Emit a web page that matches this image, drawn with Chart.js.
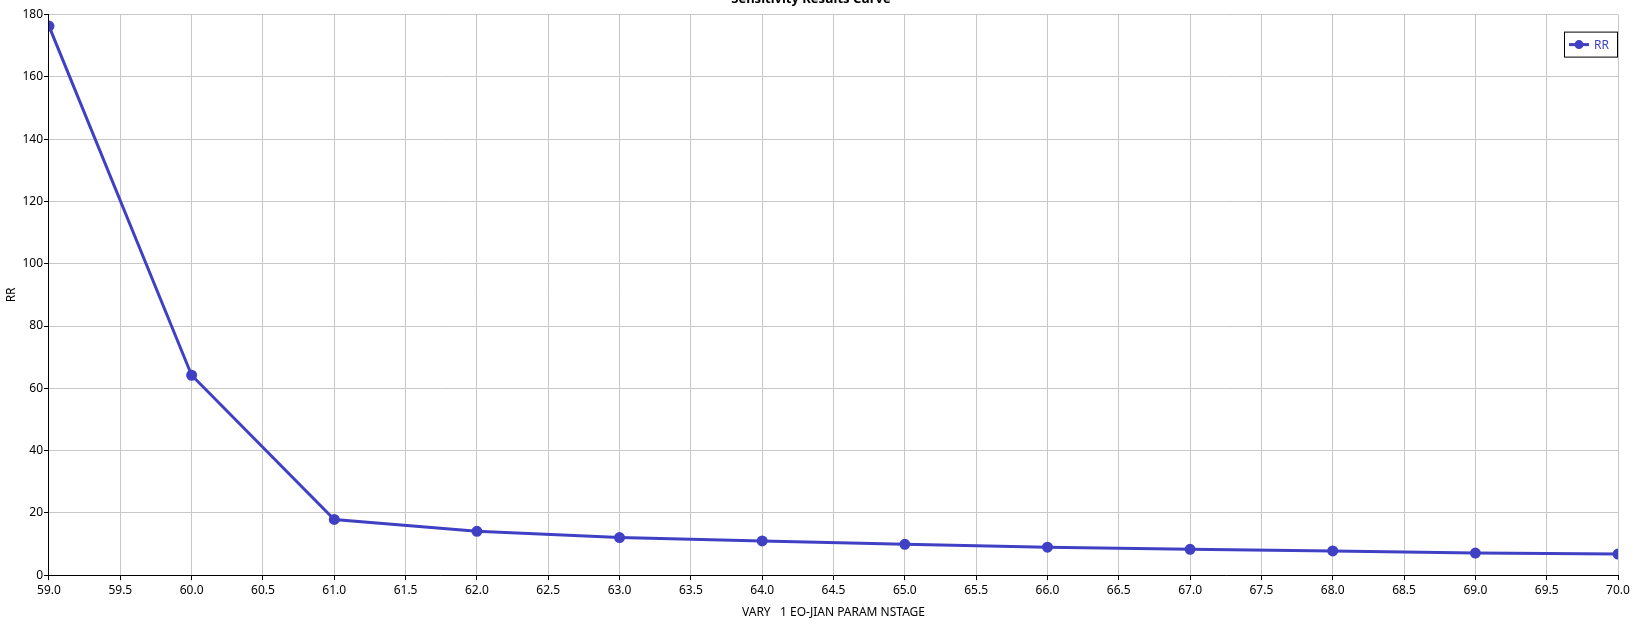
<!DOCTYPE html>
<html lang="en">
<head>
    <meta charset="UTF-8">
    <title>Sensitivity Results Curve</title>
    <script src="https://cdn.jsdelivr.net/npm/chart.js"></script>
    <style>
        body {
            margin: 0;
            padding: 0;
            background-color: #ffffff;
            overflow: hidden;
        }
        .chart-box {
            position: absolute;
            left: 0;
            top: -14px; /* title sits partly above the window like the original */
            width: 1637px;
            height: 644px;
        }
    </style>
</head>
<body>
    <div class="chart-box">
        <canvas id="rrChart"></canvas>
    </div>

    <script>
        // Data
        const nstage = [59, 60, 61, 62, 63, 64, 65, 66, 67, 68, 69, 70];
        const rrValues = [176.3, 64.2, 17.9, 14.1, 12.1, 11.0, 9.9, 9.0, 8.3, 7.8, 7.1, 6.8];
        const seriesName = 'RR';
        const chartTitle = 'Sensitivity Results Curve';
        const xTitle = 'VARY   1 EO-JIAN PARAM NSTAGE';
        const yTitle = 'RR';

        const lineColor = '#4040c4';
        const fontFamily = '"Noto Sans", "Open Sans", Arial, sans-serif';

        // Boxed legend drawn inside the plot area, top right
        const boxLegend = {
            id: 'boxLegend',
            afterDraw(chart) {
                const ctx = chart.ctx;
                const area = chart.chartArea;
                const w = 54, h = 26;
                const x = area.right - w;
                const y = area.top + 17;
                ctx.save();
                ctx.fillStyle = '#ffffff';
                ctx.fillRect(x, y, w, h);
                ctx.strokeStyle = '#000000';
                ctx.lineWidth = 1;
                ctx.strokeRect(x + 0.5, y + 0.5, w - 1, h - 1);
                ctx.strokeStyle = lineColor;
                ctx.lineWidth = 3;
                ctx.beginPath();
                ctx.moveTo(x + 5, y + h / 2);
                ctx.lineTo(x + 25, y + h / 2);
                ctx.stroke();
                ctx.fillStyle = lineColor;
                ctx.beginPath();
                ctx.arc(x + 15, y + h / 2, 4.5, 0, Math.PI * 2);
                ctx.fill();
                ctx.font = '12px ' + fontFamily;
                ctx.textBaseline = 'middle';
                ctx.fillText(chart.data.datasets[0].label, x + 30, y + h / 2 + 1);
                ctx.restore();
            }
        };

        const ctx = document.getElementById('rrChart').getContext('2d');
        new Chart(ctx, {
            type: 'line',
            data: {
                datasets: [{
                    label: seriesName,
                    data: nstage.map((x, i) => ({ x: x, y: rrValues[i] })),
                    borderColor: lineColor,
                    backgroundColor: lineColor,
                    borderWidth: 3,
                    pointRadius: 4,
                    pointHoverRadius: 4,
                    tension: 0,
                    fill: false
                }]
            },
            options: {
                responsive: true,
                maintainAspectRatio: false,
                animation: false,
                layout: {
                    padding: { left: 4, right: 19, top: 0, bottom: 10 }
                },
                plugins: {
                    legend: { display: false },
                    tooltip: { enabled: false },
                    title: {
                        display: true,
                        text: chartTitle,
                        color: '#000000',
                        font: { family: fontFamily, size: 13, weight: 'bold' },
                        padding: { top: 5, bottom: 8 }
                    }
                },
                scales: {
                    x: {
                        type: 'linear',
                        min: 59,
                        max: 70,
                        border: { color: '#000000', width: 1 },
                        grid: { color: '#c8c8c8', tickColor: '#000000', tickLength: 5 },
                        ticks: {
                            stepSize: 0.5,
                            color: '#000000',
                            padding: 3,
                            maxRotation: 0,
                            autoSkip: false,
                            font: { family: fontFamily, size: 12 },
                            callback: v => v.toFixed(1)
                        },
                        title: {
                            display: true,
                            text: xTitle,
                            color: '#000000',
                            font: { family: fontFamily, size: 12 },
                            padding: { top: 5, bottom: 0 }
                        }
                    },
                    y: {
                        min: 0,
                        max: 180,
                        border: { color: '#000000', width: 1 },
                        grid: { color: '#c8c8c8', tickColor: '#000000', tickLength: 5 },
                        ticks: {
                            stepSize: 20,
                            color: '#000000',
                            padding: 1,
                            font: { family: fontFamily, size: 12 }
                        },
                        title: {
                            display: true,
                            text: yTitle,
                            color: '#000000',
                            font: { family: fontFamily, size: 12 },
                            padding: { top: 0, bottom: 3 }
                        }
                    }
                }
            },
            plugins: [boxLegend]
        });
    </script>
</body>
</html>
